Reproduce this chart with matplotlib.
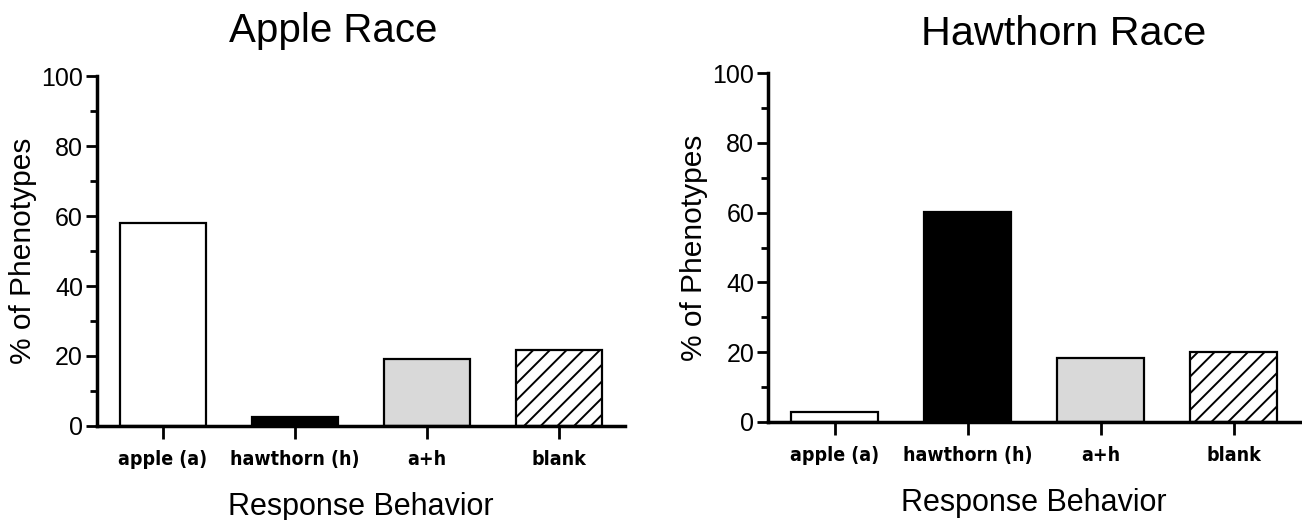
import matplotlib
matplotlib.use("Agg")
import matplotlib.pyplot as plt
from matplotlib.ticker import MultipleLocator

categories = ["apple (a)", "hawthorn (h)", "a+h", "blank"]
apple_race = [58.0, 2.6, 19.1, 21.7]
hawthorn_race = [2.8, 60.2, 18.2, 20.1]
titles = ["Apple Race", "Hawthorn Race"]

plt.rcParams["font.family"] = ["Liberation Sans", "DejaVu Sans"]
plt.rcParams["hatch.linewidth"] = 1.4

faces = ["white", "black", "#d9d9d9", "white"]
hatches = [None, None, None, "//"]

fig = plt.figure(figsize=(13.02, 5.2), dpi=100)
ax1 = fig.add_axes([0.0745, 0.1808, 0.4055, 0.673])
ax2 = fig.add_axes([0.5899, 0.1885, 0.4086, 0.671])

for ax, vals in [(ax1, apple_race), (ax2, hawthorn_race)]:
    x = range(len(categories))
    bars = ax.bar(x, vals, width=0.65, color=faces, edgecolor="black", linewidth=1.6)
    for b, h in zip(bars, hatches):
        if h:
            b.set_hatch(h)
    ax.set_xlim(-0.5, 3.5)
    ax.set_ylim(0, 100)
    ax.set_xticks(list(x))
    ax.set_xticklabels(categories, family="DejaVu Sans", fontstretch="condensed",
                       fontweight="bold", fontsize=14)
    ax.yaxis.set_major_locator(MultipleLocator(20))
    ax.yaxis.set_minor_locator(MultipleLocator(10))
    ax.tick_params(axis="y", which="major", length=8, width=2, labelsize=18, pad=2)
    ax.tick_params(axis="y", which="minor", length=5, width=2)
    ax.tick_params(axis="x", which="major", length=9, width=2, pad=8)
    for s in ["top", "right"]:
        ax.spines[s].set_visible(False)
    for s in ["left", "bottom"]:
        ax.spines[s].set_linewidth(2.5)
    ax.set_ylabel("% of Phenotypes", fontsize=21.5, labelpad=3)
    ax.set_xlabel("Response Behavior", fontsize=22, labelpad=17)

fig.text(0.256, 0.92, titles[0], fontsize=29, ha="center", va="baseline")
fig.text(0.817, 0.913, titles[1], fontsize=29.8, ha="center", va="baseline")

fig.savefig("out.png", dpi=100)
